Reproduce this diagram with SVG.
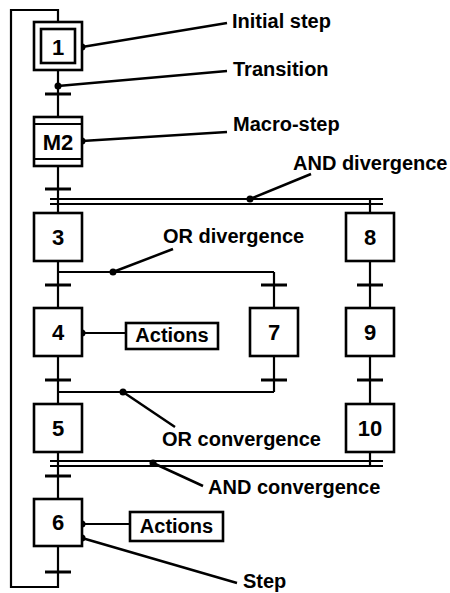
<svg xmlns="http://www.w3.org/2000/svg" width="450" height="593" viewBox="0 0 450 593">
<style>
text{font-family:"Liberation Sans",Arial,sans-serif;font-weight:bold;font-size:20px;fill:#000}
.lbl{text-anchor:middle;dominant-baseline:central;font-size:22px}
.box{fill:#fff;stroke:#000;stroke-width:2.6}
.ln{fill:none;stroke:#000;stroke-width:2.2}
.tr{stroke:#000;stroke-width:3}
.ld{fill:none;stroke:#000;stroke-width:2.5}
.dot{fill:#000}
</style>
<rect width="450" height="593" fill="#fff"/>
<g id="connectors">
<polyline class="ln" points="58,22 58,10 11,10 11,587 58,587 58,546"/>
<line class="ln" x1="58" y1="70" x2="58" y2="117"/>
<line class="tr" x1="45" y1="94" x2="71" y2="94"/>
<line class="ln" x1="58" y1="166" x2="58" y2="213"/>
<line class="tr" x1="45" y1="189" x2="71" y2="189"/>
<line class="ln" x1="50" y1="199" x2="383" y2="199"/>
<line class="ln" x1="50" y1="204" x2="383" y2="204"/>
<line class="ln" x1="370" y1="199" x2="370" y2="213"/>
<line class="ln" x1="58" y1="261" x2="58" y2="308"/>
<line class="ln" x1="58" y1="272" x2="274" y2="272"/>
<line class="ln" x1="274" y1="272" x2="274" y2="308"/>
<line class="tr" x1="45" y1="285" x2="71" y2="285"/>
<line class="tr" x1="261" y1="285" x2="287" y2="285"/>
<line class="ln" x1="370" y1="261" x2="370" y2="308"/>
<line class="tr" x1="357" y1="285" x2="383" y2="285"/>
<line class="ln" x1="58" y1="356" x2="58" y2="404"/>
<line class="ln" x1="274" y1="356" x2="274" y2="392"/>
<line class="ln" x1="58" y1="392" x2="274" y2="392"/>
<line class="tr" x1="45" y1="380" x2="71" y2="380"/>
<line class="tr" x1="261" y1="380" x2="287" y2="380"/>
<line class="ln" x1="370" y1="356" x2="370" y2="403"/>
<line class="tr" x1="357" y1="380" x2="383" y2="380"/>
<line class="ln" x1="58" y1="452" x2="58" y2="499"/>
<line class="ln" x1="370" y1="452" x2="370" y2="466"/>
<line class="ln" x1="50" y1="461" x2="383" y2="461"/>
<line class="ln" x1="50" y1="466" x2="383" y2="466"/>
<line class="tr" x1="45" y1="476" x2="71" y2="476"/>
<line class="tr" x1="45" y1="572" x2="71" y2="572"/>
<line class="ln" x1="82" y1="333" x2="126" y2="333"/>
<line class="ln" x1="82" y1="524" x2="130" y2="524"/>
</g>
<g id="leaders">
<line class="ld" x1="82" y1="47" x2="227" y2="23"/>
<line class="ld" x1="58" y1="86" x2="227" y2="71"/>
<line class="ld" x1="82" y1="141" x2="227" y2="132"/>
<line class="ld" x1="250" y1="199" x2="311" y2="174"/>
<line class="ld" x1="113" y1="272" x2="173" y2="249"/>
<line class="ld" x1="123" y1="392" x2="175" y2="427"/>
<line class="ld" x1="153" y1="463" x2="203" y2="486"/>
<line class="ld" x1="82" y1="538" x2="237" y2="583"/>
<circle class="dot" cx="82" cy="47" r="3.5"/>
<circle class="dot" cx="58" cy="86" r="3.5"/>
<circle class="dot" cx="82" cy="141" r="3.5"/>
<circle class="dot" cx="250" cy="199" r="3.5"/>
<circle class="dot" cx="113" cy="272" r="3.5"/>
<circle class="dot" cx="82" cy="333" r="3.5"/>
<circle class="dot" cx="123" cy="392" r="3.5"/>
<circle class="dot" cx="153" cy="463" r="3.5"/>
<circle class="dot" cx="82" cy="524" r="3.5"/>
<circle class="dot" cx="82" cy="538" r="3.5"/>
</g>
<g id="step1">
<rect class="box" x="34" y="22" width="48" height="48"/>
<rect class="box" x="41" y="29" width="34" height="34"/>
<text class="lbl" x="58" y="47">1</text>
</g>
<g id="stepM2">
<rect class="box" x="34" y="117" width="48" height="49"/>
<line class="ln" x1="34" y1="124" x2="82" y2="124" stroke-width="2.5"/>
<line class="ln" x1="34" y1="159" x2="82" y2="159" stroke-width="2.5"/>
<text class="lbl" x="58" y="142">M2</text>
</g>
<g id="step3"><rect class="box" x="34" y="213" width="48" height="48"/><text class="lbl" x="58" y="237">3</text></g>
<g id="step4"><rect class="box" x="34" y="308" width="48" height="48"/><text class="lbl" x="58" y="332">4</text></g>
<g id="step5"><rect class="box" x="34" y="404" width="48" height="48"/><text class="lbl" x="58" y="428">5</text></g>
<g id="step6"><rect class="box" x="34" y="499" width="48" height="47"/><text class="lbl" x="58" y="522">6</text></g>
<g id="step7"><rect class="box" x="250" y="308" width="48" height="48"/><text class="lbl" x="274" y="332">7</text></g>
<g id="step8"><rect class="box" x="346" y="213" width="48" height="48"/><text class="lbl" x="370" y="237">8</text></g>
<g id="step9"><rect class="box" x="346" y="308" width="48" height="48"/><text class="lbl" x="370" y="332">9</text></g>
<g id="step10"><rect class="box" x="346" y="404" width="48" height="48"/><text class="lbl" x="370" y="428">10</text></g>
<g id="actions4"><rect class="box" x="126" y="323" width="92" height="26"/><text x="172" y="342" text-anchor="middle">Actions</text></g>
<g id="actions6"><rect class="box" x="130" y="512" width="93" height="29"/><text x="176.5" y="533" text-anchor="middle">Actions</text></g>
<g id="labels">
<text x="232" y="28">Initial step</text>
<text x="233" y="76">Transition</text>
<text x="233" y="131">Macro-step</text>
<text x="293" y="170">AND divergence</text>
<text x="163" y="243">OR divergence</text>
<text x="162" y="446">OR convergence</text>
<text x="208" y="494">AND convergence</text>
<text x="243" y="588">Step</text>
</g>
</svg>
